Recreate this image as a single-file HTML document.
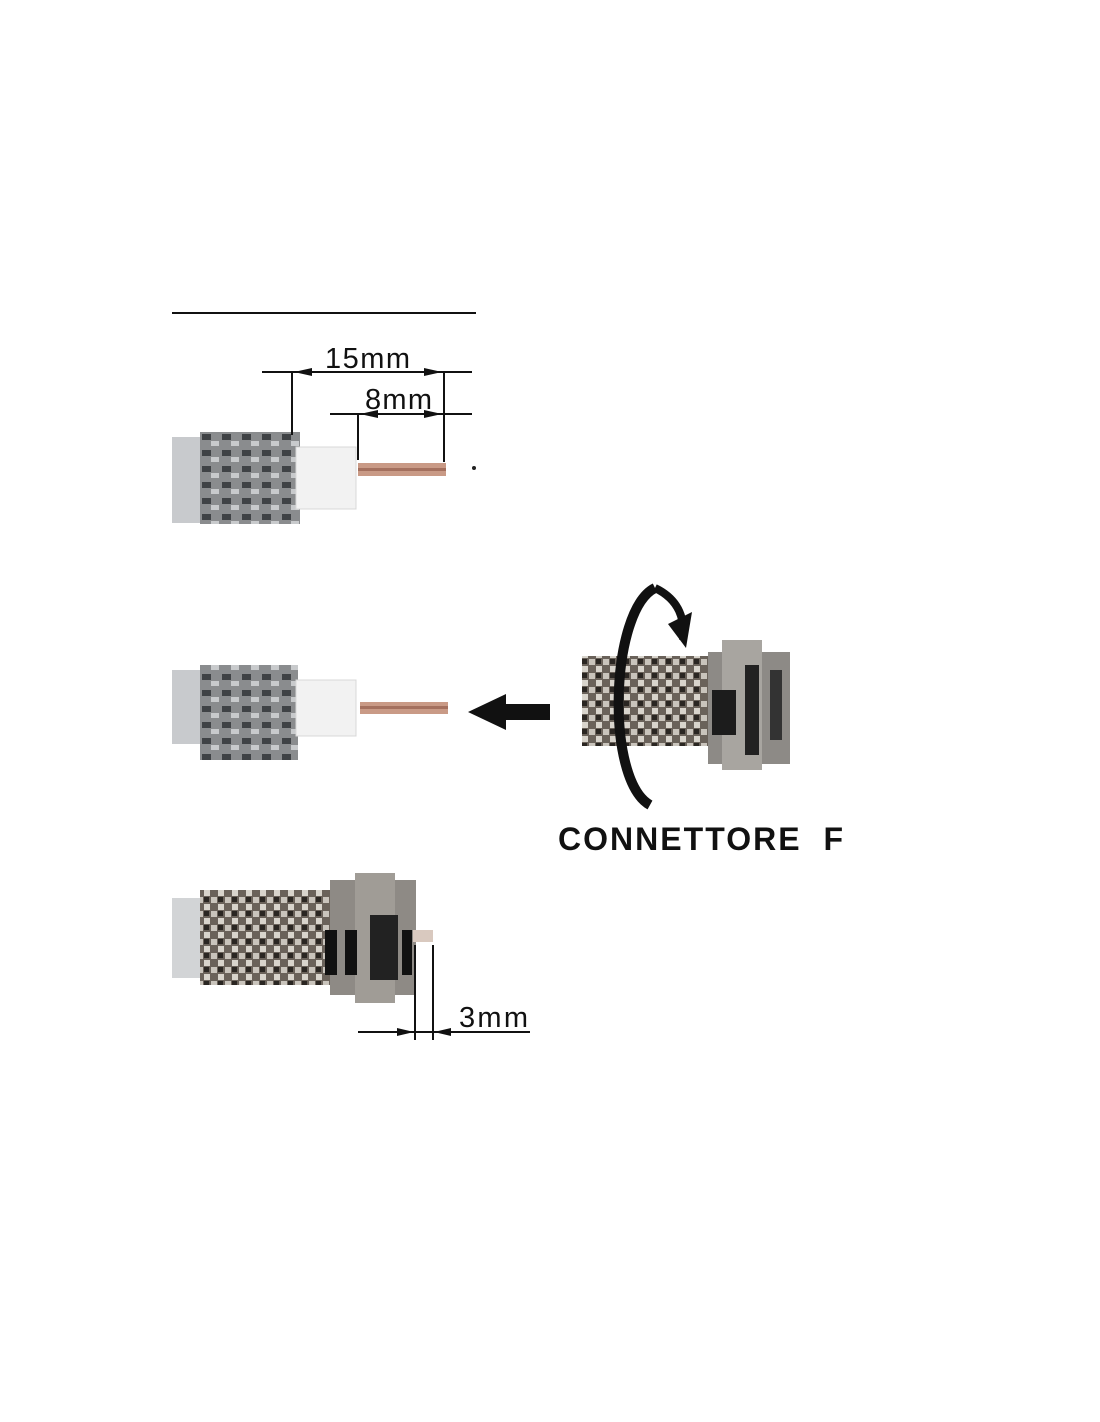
<!DOCTYPE html>
<html><head><style>
html,body{margin:0;padding:0;background:#fff;}
svg{display:block}
text{font-family:"Liberation Sans",sans-serif;fill:#111}
</style></head><body>
<svg width="1100" height="1422" viewBox="0 0 1100 1422" xmlns="http://www.w3.org/2000/svg">
<defs>
<pattern id="kn" width="14" height="14" patternUnits="userSpaceOnUse">
<rect width="14" height="14" fill="#6a625a"/>
<rect x="1" y="1" width="6" height="6" fill="#c9c4bc"/>
<rect x="8" y="8" width="6" height="6" fill="#d8d4cc"/>
<rect x="8" y="1" width="5" height="5" fill="#2a2622"/>
</pattern>
<pattern id="br" width="20" height="16" patternUnits="userSpaceOnUse">
<rect width="20" height="16" fill="#8a8c8e"/>
<rect x="2" y="2" width="9" height="6" fill="#3f4245"/>
<rect x="11" y="9" width="8" height="5" fill="#c8cacc"/>
</pattern>
</defs>
<line x1="172" y1="313" x2="476" y2="313" stroke="#111" stroke-width="2"/>
<rect x="172" y="437" width="40" height="86" fill="#c8cacd"/>
<rect x="200" y="432" width="100" height="92" fill="url(#br)"/>
<rect x="296" y="447" width="60" height="62" fill="#f2f2f2" stroke="#d8d8d8"/>
<rect x="358" y="463" width="88" height="13" fill="#c99a86"/>
<rect x="358" y="468" width="88" height="3" fill="#a4705e"/>
<circle cx="474" cy="468" r="2" fill="#222"/>
<g stroke="#111" stroke-width="2" fill="none">
<line x1="262" y1="372" x2="472" y2="372"/>
<line x1="292" y1="372" x2="292" y2="435"/>
<line x1="444" y1="372" x2="444" y2="462"/>
<line x1="330" y1="414" x2="472" y2="414"/>
<line x1="358" y1="414" x2="358" y2="460"/>
</g>
<g fill="#111">
<polygon points="294,372 312,368 312,376"/><polygon points="442,372 424,368 424,376"/>
<polygon points="360,414 378,410 378,418"/><polygon points="442,414 424,410 424,418"/>
</g>
<text x="325" y="368" font-size="29" textLength="85">15mm</text>
<text x="365" y="409" font-size="29" textLength="67">8mm</text>
<rect x="172" y="670" width="40" height="74" fill="#c8cacd"/>
<rect x="200" y="665" width="98" height="95" fill="url(#br)"/>
<rect x="296" y="680" width="60" height="56" fill="#f2f2f2" stroke="#d8d8d8"/>
<rect x="360" y="702" width="88" height="12" fill="#c99a86"/>
<rect x="360" y="706" width="88" height="3" fill="#a4705e"/>
<polygon points="468,712 506,694 506,704 550,704 550,720 506,720 506,730" fill="#111"/>
<rect x="582" y="656" width="130" height="90" fill="url(#kn)"/>
<rect x="708" y="652" width="82" height="112" fill="#8d8a86"/>
<rect x="722" y="640" width="40" height="130" fill="#a8a5a0"/>
<rect x="745" y="665" width="14" height="90" fill="#222"/>
<rect x="712" y="690" width="24" height="45" fill="#1c1c1c"/>
<rect x="770" y="670" width="12" height="70" fill="#333"/>
<path d="M655 588 C610 610 605 780 650 805" stroke="#111" stroke-width="10" fill="none"/>
<path d="M655 588 C680 600 685 620 683 640" stroke="#111" stroke-width="8" fill="none"/>
<polygon points="668,624 692,612 686,648" fill="#111"/>
<text x="558" y="850" font-size="32" font-weight="bold" textLength="285">CONNETTORE&#160;&#160;F</text>
<rect x="172" y="898" width="36" height="80" fill="#d2d4d6"/>
<rect x="200" y="890" width="140" height="95" fill="url(#kn)"/>
<rect x="330" y="880" width="86" height="115" fill="#8e8a85"/>
<rect x="355" y="873" width="40" height="130" fill="#a09c96"/>
<rect x="325" y="930" width="12" height="45" fill="#111"/>
<rect x="345" y="930" width="12" height="45" fill="#111"/>
<rect x="370" y="915" width="28" height="65" fill="#222"/>
<rect x="402" y="930" width="10" height="45" fill="#111"/>
<rect x="413" y="930" width="20" height="12" fill="#d9c9bf"/>
<g stroke="#111" stroke-width="2">
<line x1="415" y1="945" x2="415" y2="1040"/>
<line x1="433" y1="945" x2="433" y2="1040"/>
<line x1="358" y1="1032" x2="530" y2="1032"/>
</g>
<polygon points="414,1032 397,1028 397,1036" fill="#111"/>
<polygon points="434,1032 451,1028 451,1036" fill="#111"/>
<text x="459" y="1027" font-size="29" textLength="69">3mm</text>
</svg>
</body></html>
